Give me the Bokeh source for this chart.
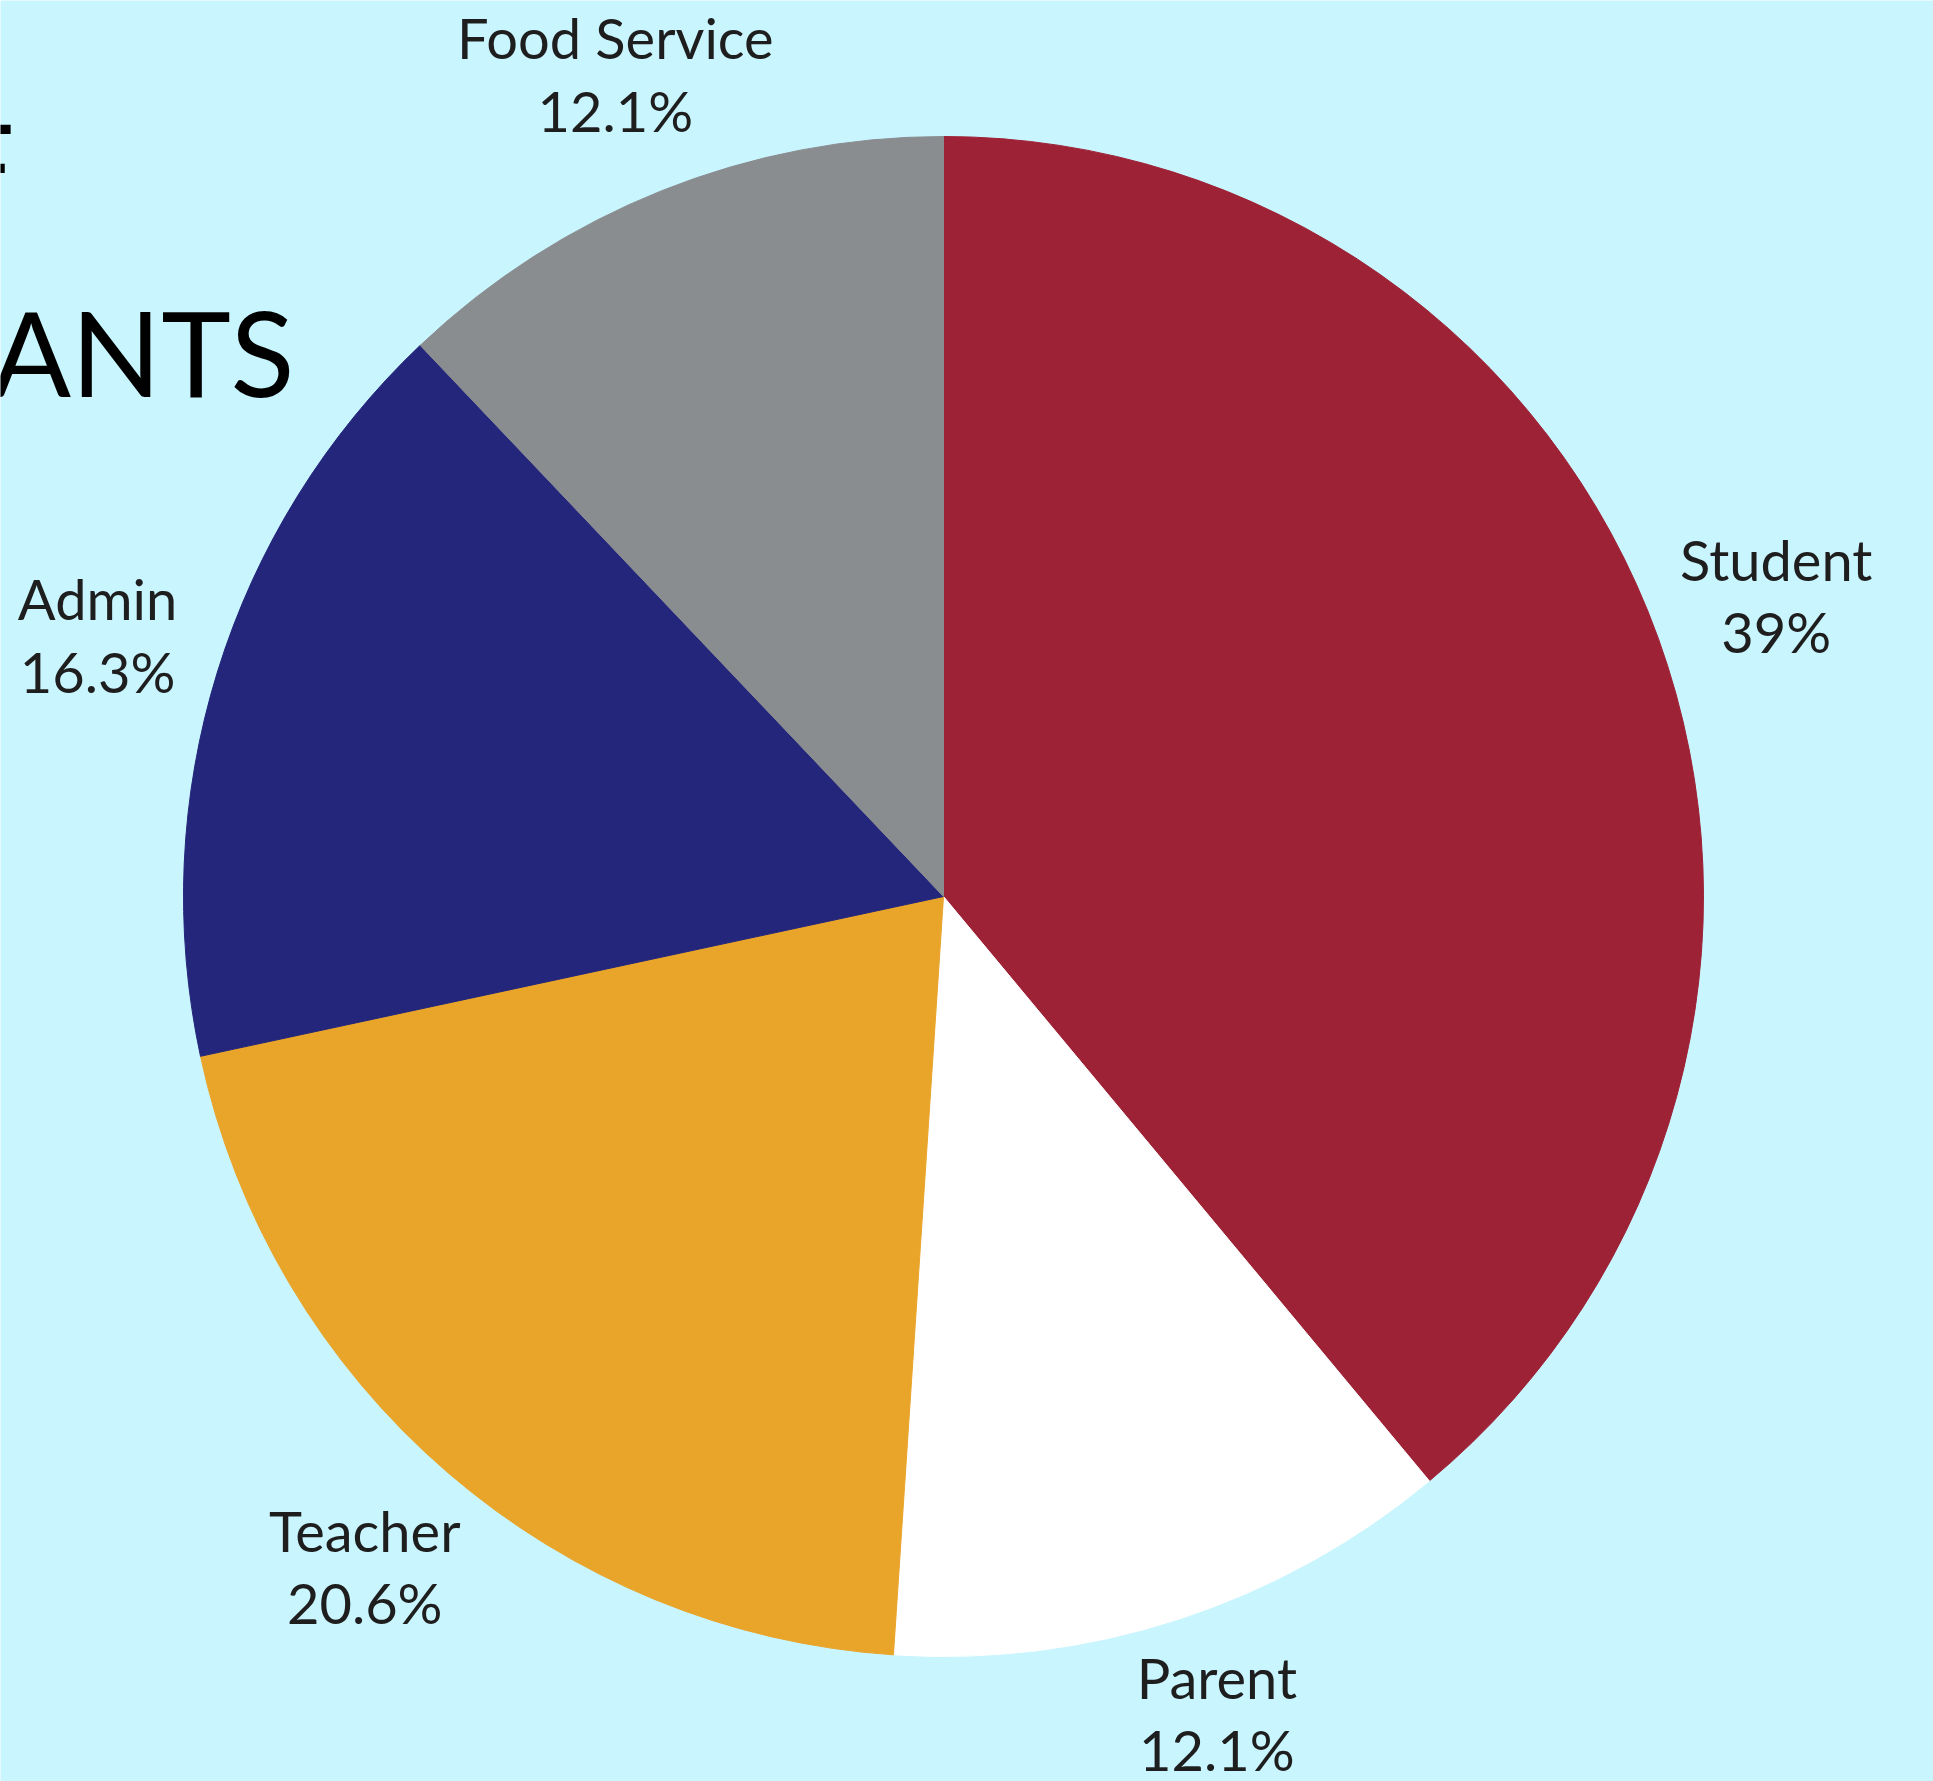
import math
from bokeh.plotting import figure
from bokeh.models import ColumnDataSource, Range1d
from bokeh.core.properties import value
from bokeh.embed import file_html
from bokeh.resources import INLINE

# ---- data ----
categories = ["Student", "Parent", "Teacher", "Admin", "Food Service"]
percents = [39.0, 12.1, 20.6, 16.3, 12.1]
colors = ["#9E2236", "#FFFFFF", "#E9A42A", "#23267A", "#8A8D90"]
title_lines = ["BREAKDOWN OF", "PARTICIPANTS"]

BG = "#C9F5FE"
W, H = 1933, 1781
CX, CY, R = 943, 885, 760
LABEL_FACTOR = 1.165
LABEL_HALF_H = 68

total = sum(percents)
starts, ends, lx, ly, texts = [], [], [], [], []
cum = 0.0
for cat, v in zip(categories, percents):
    s = math.pi / 2 - 2 * math.pi * cum / total
    e = s - 2 * math.pi * v / total
    cum += v
    starts.append(s)
    ends.append(e)
    m = (s + e) / 2
    x = CX + LABEL_FACTOR * R * math.cos(m)
    y = CY + LABEL_FACTOR * R * math.sin(m)
    y = min(max(y, LABEL_HALF_H), H - LABEL_HALF_H)
    lx.append(x)
    ly.append(y)
    texts.append(f"{cat}\n{v:g}%")

src = ColumnDataSource(dict(cat=categories, pct=percents, color=colors,
                            start=starts, end=ends))
lab = ColumnDataSource(dict(x=lx, y=ly, text=texts))

p = figure(width=W, height=H, x_range=Range1d(0, W), y_range=Range1d(0, H),
           output_backend="svg", toolbar_location=None, min_border=0,
           x_axis_location=None, y_axis_location=None)
p.grid.visible = False
p.outline_line_color = None
p.background_fill_color = BG
p.border_fill_color = BG

p.wedge(x=CX, y=CY, radius=R, start_angle="start", end_angle="end",
        direction="clock", fill_color="color", line_color="color",
        line_width=1, source=src)

p.text(x="x", y="y", text="text", source=lab, text_align="center",
       text_baseline="middle", text_font=value("Lato"), text_font_size="56px",
       text_color="#1E1E1E", text_line_height=1.08)

# title (partially outside the canvas, as in the reference)
p.text(x=[14, 294], y=[1617, 1430], text=title_lines, text_align="right",
       text_baseline="alphabetic", text_font=value("Lato"),
       text_font_size="118px", text_color="#000000")

open("out.html", "w").write(file_html(p, INLINE))
